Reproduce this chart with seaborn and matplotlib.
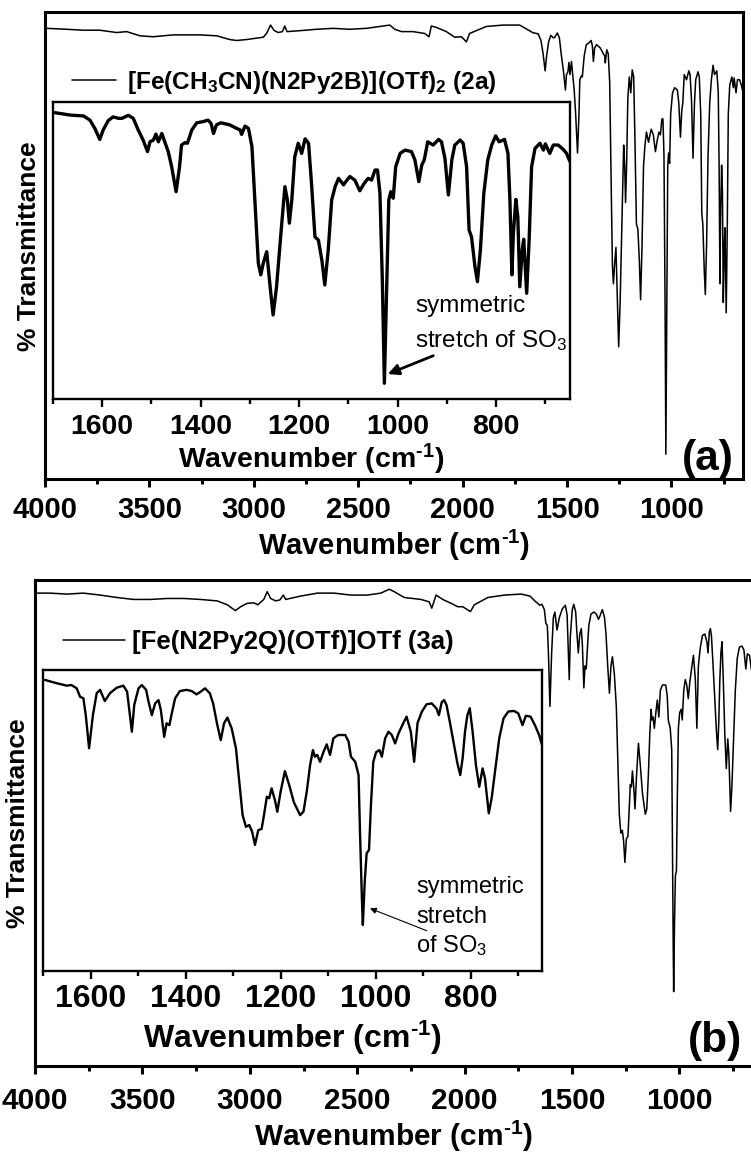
import numpy as np
import pandas as pd
import matplotlib
matplotlib.use("Agg")
import matplotlib.pyplot as plt
from matplotlib.ticker import MultipleLocator
import seaborn as sns

# ---------------- data: IR spectra (% transmittance, arbitrary offset scale) ----------------
# [Fe(CH3CN)(N2Py2B)](OTf)2 (2a), 4000-1700 cm-1
wn_2a_high = [4000, 3992, 3896, 3817, 3737, 3657, 3609, 3545, 3482, 3386, 3258, 3178, 3115,
              3083, 3035, 2955, 2939, 2920, 2904, 2884, 2863, 2852, 2841, 2780, 2700, 2621,
              2541, 2461, 2397, 2349, 2325, 2293, 2238, 2182, 2161, 2150, 2126, 2078, 2038,
              2006, 1982, 1967, 1887, 1807, 1727]
t_2a_high = [96.6, 96.5, 96.3, 96.1, 96.1, 95.6, 95.8, 94.9, 94.7, 95.1, 95.1, 94.9, 94.1,
             93.9, 94.1, 94.6, 95.4, 97.2, 96.1, 95.6, 95.8, 97.0, 95.8, 96.0, 96.3, 96.5,
             96.3, 96.5, 96.9, 97.2, 96.3, 95.8, 95.8, 95.4, 94.7, 97.0, 96.7, 95.8, 94.6,
             94.7, 93.6, 95.4, 96.9, 97.2, 97.2]

# 2a, fingerprint region 1700-650 cm-1
wn_2a_fp = [1696, 1665, 1638, 1625, 1615, 1605, 1598, 1588, 1578, 1567, 1560, 1547, 1537, 1527,
            1517, 1508, 1503, 1496, 1491, 1486, 1479, 1472, 1466, 1459, 1450, 1443, 1439, 1432,
            1427, 1418, 1408, 1395, 1385, 1379, 1374, 1368, 1359, 1341, 1327, 1320, 1317, 1310,
            1303, 1296, 1290, 1283, 1278, 1273, 1266, 1259, 1253, 1246, 1236, 1229, 1224, 1220,
            1215, 1209, 1202, 1195, 1188, 1181, 1175, 1168, 1161, 1154, 1148, 1141, 1134, 1127,
            1120, 1110, 1103, 1097, 1087, 1077, 1068, 1060, 1053, 1046, 1041, 1036, 1031, 1027,
            1023, 1018, 1014, 1009, 1004, 995, 985, 972, 965, 957, 951, 946, 939, 928, 917, 911,
            904, 897, 890, 884, 873, 867, 860, 855, 850, 843, 838, 832, 825, 817, 809, 801, 794,
            783, 776, 772, 768, 765, 760, 756, 752, 747, 744, 738, 733, 728, 721, 711, 704, 700,
            691, 684, 674, 664, 657, 650]
t_2a_fp = [96.4, 95.6, 95.3, 93.9, 91.1, 87.4, 90.6, 93.7, 95.0, 94.5, 94.5, 95.5, 94.5, 90.6,
           87.2, 83.3, 86.6, 87.2, 89.2, 86.6, 89.4, 86.1, 83.3, 78.2, 69.8, 78.2, 85.5, 86.3,
           86.1, 90.6, 93.0, 93.4, 93.9, 92.8, 89.4, 92.3, 93.0, 92.3, 91.1, 90.6, 89.1, 91.9,
           91.1, 85.0, 67.0, 45.7, 41.8, 45.7, 49.6, 37.8, 28.3, 37.8, 58.0, 71.5, 67.0, 59.2,
           67.0, 81.6, 86.1, 82.7, 87.6, 86.1, 72.6, 54.6, 53.5, 46.8, 38.4, 50.2, 67.0, 71.5,
           74.3, 72.1, 73.7, 74.9, 73.7, 70.1, 72.6, 74.3, 73.7, 77.1, 77.1, 69.3, 39.0, 5.3,
           33.3, 67.0, 69.8, 67.6, 78.2, 82.7, 83.8, 83.3, 80.5, 73.2, 78.8, 80.5, 86.6, 85.5,
           87.4, 86.6, 81.0, 68.7, 80.5, 85.5, 87.2, 86.1, 78.2, 56.9, 54.6, 44.5, 39.5, 50.2,
           69.3, 80.5, 85.5, 88.6, 86.6, 87.4, 82.7, 67.0, 41.8, 55.8, 67.2, 61.4, 37.8, 50.2,
           53.8, 35.6, 53.5, 78.2, 84.4, 86.1, 83.8, 85.9, 82.7, 85.5, 85.5, 84.1, 82.7, 79.9]

# [Fe(N2Py2Q)(OTf)]OTf (3a), 4000-1700 cm-1
wn_3a_high = [4000, 3985, 3930, 3852, 3775, 3697, 3619, 3541, 3463, 3385, 3308, 3230, 3152,
              3105, 3067, 3043, 3012, 2981, 2963, 2935, 2919, 2903, 2880, 2860, 2844, 2833,
              2763, 2685, 2608, 2530, 2452, 2390, 2351, 2328, 2281, 2203, 2165, 2153, 2133,
              2102, 2063, 2032, 2009, 1973, 1955, 1892, 1815, 1737]
t_3a_high = [97.3, 97.3, 97.3, 97.1, 97.3, 96.9, 96.4, 96.0, 96.0, 96.2, 96.2, 96.0, 95.7,
             94.9, 93.7, 94.5, 95.2, 95.3, 94.9, 96.0, 97.6, 96.2, 95.7, 95.9, 96.9, 96.0,
             96.7, 97.3, 97.3, 96.9, 96.9, 97.3, 98.1, 97.6, 96.4, 96.0, 95.5, 94.2, 96.9,
             96.0, 95.2, 94.5, 94.5, 93.5, 94.9, 96.4, 96.9, 97.1]

# 3a, fingerprint region 1700-650 cm-1
wn_3a_fp = [1696, 1671, 1650, 1640, 1629, 1622, 1615, 1610, 1603, 1595, 1587, 1580, 1570, 1559,
            1545, 1531, 1523, 1517, 1513, 1508, 1499, 1492, 1483, 1478, 1471, 1464, 1457, 1452,
            1445, 1440, 1434, 1429, 1422, 1412, 1398, 1387, 1377, 1370, 1359, 1349, 1342, 1334,
            1326, 1319, 1312, 1303, 1294, 1287, 1280, 1273, 1266, 1260, 1254, 1247, 1240, 1235,
            1229, 1224, 1219, 1212, 1207, 1200, 1191, 1182, 1172, 1159, 1152, 1145, 1138, 1132,
            1128, 1123, 1117, 1110, 1103, 1096, 1089, 1079, 1064, 1057, 1052, 1043, 1036, 1033,
            1029, 1027, 1023, 1019, 1014, 1010, 1005, 999, 992, 987, 980, 973, 966, 959, 952,
            942, 935, 926, 919, 912, 903, 893, 882, 872, 867, 861, 856, 851, 844, 835, 828, 822,
            817, 812, 807, 802, 796, 789, 782, 775, 770, 762, 756, 749, 740, 731, 721, 709, 700,
            691, 684, 674, 665, 656, 650]
t_3a_fp = [96.7, 95.6, 94.8, 95.0, 93.9, 91.1, 90.6, 85.0, 74.0, 85.0, 92.3, 93.4, 89.7, 92.3,
           94.1, 94.8, 92.8, 85.0, 79.5, 88.4, 93.9, 95.0, 93.4, 89.5, 85.0, 88.9, 90.0, 86.7,
           77.8, 82.3, 81.7, 85.6, 90.6, 93.0, 93.4, 93.0, 91.9, 92.6, 93.9, 92.3, 88.9, 82.3,
           76.7, 82.3, 84.2, 80.6, 74.0, 62.9, 51.8, 47.9, 48.5, 46.3, 41.9, 46.8, 47.2, 51.8,
           57.9, 57.4, 60.7, 56.8, 52.9, 59.6, 66.4, 61.8, 56.0, 51.8, 52.9, 59.6, 68.4, 73.4,
           71.2, 71.8, 69.5, 72.7, 75.3, 71.8, 77.3, 78.4, 78.4, 76.2, 71.2, 69.5, 65.1, 46.3,
           24.2, 15.3, 29.7, 39.1, 40.2, 55.1, 69.5, 72.7, 73.4, 71.2, 77.3, 79.5, 78.4, 75.6,
           78.9, 82.3, 84.5, 79.5, 69.5, 82.3, 86.1, 88.6, 88.9, 87.2, 85.0, 89.3, 90.0, 88.4,
           82.8, 75.1, 69.0, 65.1, 70.7, 79.5, 85.0, 87.3, 79.5, 68.4, 61.2, 67.3, 64.0, 52.4,
           57.4, 66.2, 77.3, 83.9, 86.2, 86.4, 85.6, 81.7, 84.8, 84.5, 81.7, 78.4, 75.1]

label_2a = r"[Fe(CH$_3$CN)(N2Py2B)](OTf)$_2$ (2a)"
label_3a = r"[Fe(N2Py2Q)(OTf)]OTf (3a)"
xlabel = "Wavenumber (cm$^{\u20101}$)"
ylabel = "% Transmittance"
main_ticks = [4000, 3500, 3000, 2500, 2000, 1500, 1000]
inset_ticks = [1600, 1400, 1200, 1000, 800]

spec_2a = pd.DataFrame({"wn": wn_2a_high + wn_2a_fp, "T": t_2a_high + t_2a_fp})
spec_3a = pd.DataFrame({"wn": wn_3a_high + wn_3a_fp, "T": t_3a_high + t_3a_fp})

# ---------------- style ----------------
sns.set_style("ticks")
plt.rcParams["font.family"] = ["Liberation Sans", "DejaVu Sans"]
plt.rcParams["mathtext.default"] = "regular"
plt.rcParams.update({"text.color": "black", "axes.labelcolor": "black",
                     "xtick.color": "black", "ytick.color": "black",
                     "axes.edgecolor": "black"})

W, H = 751, 1156
fig = plt.figure(figsize=(W / 100, H / 100), dpi=100)


def rect(left, top, right, bottom):
    return [left / W, 1 - bottom / H, (right - left) / W, (bottom - top) / H]


def fpos(x, y):
    return (x / W, 1 - y / H)


def style_axis(ax, xlim, ticks, minor, spine_w, tick_fs, pad, tlen):
    ax.set_xlim(*xlim)
    ax.set_ylim(0, 100)
    ax.set_xticks(ticks)
    ax.xaxis.set_minor_locator(MultipleLocator(minor))
    ax.set_yticks([])
    ax.set_ylabel("")
    for s in ax.spines.values():
        s.set_visible(True)
        s.set_linewidth(spine_w)
        s.set_color("black")
    ax.tick_params(axis="x", which="major", direction="out", length=tlen, width=spine_w,
                   labelsize=tick_fs, pad=pad, colors="black")
    ax.tick_params(axis="x", which="minor", direction="out", length=tlen * 0.55, width=spine_w)
    for lab in ax.get_xticklabels():
        lab.set_fontweight("bold")
    ax.set_facecolor("white")


def set_xlabel(ax, fs, baseline_px, bottom_px, top_px):
    ax.set_xlabel(xlabel, fontsize=fs, fontweight="bold", color="black")
    frac = (bottom_px - baseline_px) / (bottom_px - top_px)
    ax.xaxis.set_label_coords(0.5, frac)
    ax.xaxis.label.set_va("baseline")


def panel(spec, label, main_box, inset_box, main_fs, inset_fs, pads, inset_lw, letter,
          letter_pos, legend_pos, handle_len, text_pad, leg_fs, ylabel_pos, label_base):
    l, t, r, b = main_box
    ax = fig.add_axes(rect(l, t, r, b))
    sns.lineplot(data=spec, x="wn", y="T", ax=ax, color="black", lw=1.1, sort=False,
                 estimator=None, label=label)
    style_axis(ax, (4000, 660), main_ticks, 250, 2.2, main_fs, pads[0], 6)
    set_xlabel(ax, main_fs, label_base[0], b, t)
    leg = ax.legend(loc="center left", bbox_to_anchor=fpos(*legend_pos),
                    bbox_transform=fig.transFigure, frameon=False, borderpad=0,
                    borderaxespad=0, handlelength=handle_len, handletextpad=text_pad,
                    prop={"size": leg_fs, "weight": "bold"})
    for h in leg.get_lines():
        h.set_linewidth(1.1)
    for txt in leg.get_texts():
        txt.set_color("black")

    il, it, ir, ib = inset_box
    ins = fig.add_axes(rect(il, it, ir, ib))
    fp = spec[spec["wn"] <= 1700]
    sns.lineplot(data=fp, x="wn", y="T", ax=ins, color="black", lw=inset_lw, sort=False,
                 estimator=None, legend=False)
    style_axis(ins, (1700, 650), inset_ticks, 100, 1.7, inset_fs, pads[1], 6)
    set_xlabel(ins, inset_fs, label_base[1], ib, it)

    fig.text(*fpos(*letter_pos), letter, fontsize=30.5, fontweight="bold", va="baseline")
    fig.text(*fpos(*ylabel_pos), ylabel, fontsize=19, fontweight="bold", rotation=90,
             ha="center", va="center")
    return ax, ins


ax_a, ins_a = panel(spec_2a, label_2a, (45, 12, 742.5, 479), (53, 102, 570, 399), 21, 20.5,
                    (6.5, 5.0), 2.4, "(a)", (682, 470), (72, 82), 1.8, 0.45, 17.6, (29, 246),
                    (555, 468))
ax_b, ins_b = panel(spec_3a, label_3a, (35, 580, 752.5, 1066), (43, 670, 542, 971), 21.5, 23.0,
                    (9.0, 3.5), 1.7, "(b)", (688, 1052), (63, 642), 2.4, 0.3, 18.5, (18, 823),
                    (1146, 1048))

# SO3 symmetric stretch annotations
fig.text(*fpos(415, 311.7), "symmetric", fontsize=17.5, va="baseline")
fig.text(*fpos(415, 347.3), r"stretch of SO$_3$", fontsize=17.5, va="baseline")
ins_a.annotate("", xy=(1020, 8.4), xycoords="data", xytext=(433.3, H - 355.7),
               textcoords="figure pixels",
               arrowprops=dict(arrowstyle="-|>", lw=2.0, color="black", mutation_scale=16,
                               shrinkA=0, shrinkB=0))

fig.text(*fpos(416, 893.3), "symmetric", fontsize=17, va="baseline")
fig.text(*fpos(416, 923.3), "stretch", fontsize=17, va="baseline")
fig.text(*fpos(416, 952.3), r"of SO$_3$", fontsize=17, va="baseline")
ins_b.annotate("", xy=(1012, 20.8), xycoords="data", xytext=(426.7, H - 930.7),
               textcoords="figure pixels",
               arrowprops=dict(arrowstyle="-|>", lw=0.8, color="black", mutation_scale=9,
                               shrinkA=0, shrinkB=0))

fig.savefig("out.png", dpi=100)
